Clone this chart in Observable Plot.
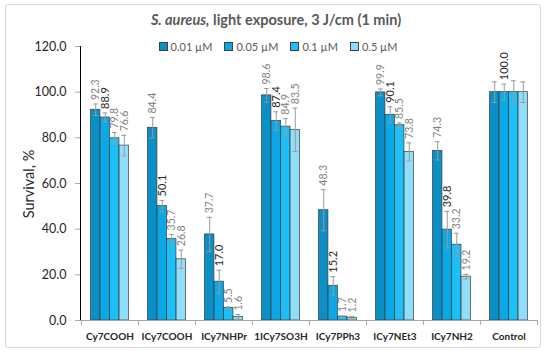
<!DOCTYPE html>
<html>
<head>
<meta charset="utf-8">
<script src="https://cdn.jsdelivr.net/npm/d3@7"></script>
<script src="https://cdn.jsdelivr.net/npm/@observablehq/plot@0.6"></script>
<style>
  html, body { margin: 0; padding: 0; background: #fff; }
  #wrap { position: relative; width: 550px; height: 352px; font-family: Lato, "Open Sans", sans-serif; }
  #frame { position: absolute; left: 5px; top: 4px; width: 536px; height: 344px; border: 1px solid #d9d9d9; border-radius: 3px; box-sizing: border-box; }
  #title { position: absolute; top: 11px; left: 0; width: 552px; text-align: center; font-size: 14.5px; font-weight: bold; color: #595959; }
  #legend { position: absolute; top: 40px; left: 0; width: 556px; display: flex; justify-content: center; gap: 12px; font-size: 11px; color: #595959; }
  #legend span.item { display: flex; align-items: center; gap: 3px; }
  #legend span.sw { width: 7px; height: 7px; border: 1px solid #404040; display: inline-block; }
  #ylabel { position: absolute; left: 28px; top: 184px; transform: translate(-50%, -50%) rotate(-90deg); font-size: 14.5px; color: #262626; white-space: nowrap; }
  #chart { position: absolute; left: 0; top: 0; }
</style>
</head>
<body>
<div id="wrap">
  <div id="frame"></div>
  <div id="chart"></div>
  <div id="title"><i>S. aureus,</i> light exposure, 3 J/cm (1 min)</div>
  <div id="legend"></div>
  <div id="ylabel">Survival, %</div>
</div>
<script>
const categories = ["Cy7COOH", "ICy7COOH", "ICy7NHPr", "1ICy7SO3H", "ICy7PPh3", "ICy7NEt3", "ICy7NH2", "Control"];
const seriesNames = ["0.01 µM", "0.05 µM", "0.1 µM", "0.5 µM"];
const values001 = [92.3, 84.4, 37.7, 98.6, 48.3, 99.9, 74.3, 100.0];
const values005 = [88.9, 50.1, 17.0, 87.4, 15.2, 90.1, 39.8, 100.0];
const values01  = [79.8, 35.7, 5.5, 84.9, 1.7, 85.5, 33.2, 100.0];
const values05  = [76.6, 26.8, 1.6, 83.5, 1.2, 73.8, 19.2, 100.0];
const errors001 = [2.5, 4.5, 7.5, 3.0, 9.0, 1.5, 4.0, 4.5];
const errors005 = [2.0, 2.5, 5.0, 4.0, 4.0, 3.5, 8.0, 3.5];
const errors01  = [2.5, 2.0, 0.4, 3.5, 0.3, 1.0, 5.0, 5.0];
const errors05  = [4.5, 4.0, 1.0, 9.5, 0.6, 4.0, 1.0, 4.5];
const yTicks = [0, 20, 40, 60, 80, 100, 120];
// labels hidden in the original (Control shows only the 0.05 µM label)
const hiddenLabels = [["Control", "0.01 µM"], ["Control", "0.1 µM"], ["Control", "0.5 µM"]];

const colors = ["#0a90c6", "#0aa8e6", "#1cc0f6", "#8fdffa"];
const seriesValues = [values001, values005, values01, values05];
const seriesErrors = [errors001, errors005, errors01, errors05];

const rows = [];
seriesNames.forEach((s, si) => {
  categories.forEach((c, ci) => {
    rows.push({category: c, series: s, si, value: seriesValues[si][ci], err: seriesErrors[si][ci]});
  });
});

const width = 550, height = 352;
const marginLeft = 80, marginRight = 13, marginTop = 46, marginBottom = 32;
const bw = (width - marginLeft - marginRight) / categories.length;
const pad = bw / 6;

const marks = [];
// bars
seriesNames.forEach((s, si) => {
  const data = rows.filter(d => d.si === si);
  marks.push(Plot.barY(data, {
    x: "category", y: "value",
    fill: colors[si], stroke: "#3a3a3a", strokeWidth: 0.7,
    insetLeft: pad * (1 + si), insetRight: pad * (4 - si)
  }));
});
// axes lines
marks.push(Plot.ruleY([0], {stroke: "#a6a6a6", strokeWidth: 1}));
marks.push(Plot.ruleX(categories, {x: d => d, dx: -bw / 2, y1: 0, y2: 0, insetBottom: -5, stroke: "#a6a6a6"}));
marks.push(Plot.ruleX([categories[categories.length - 1]], {x: d => d, dx: bw / 2, y1: 0, y2: 0, insetBottom: -5, stroke: "#a6a6a6"}));
// error bars
seriesNames.forEach((s, si) => {
  const data = rows.filter(d => d.si === si);
  const off = pad * (si - 1.5);
  const cap = 2.5;
  marks.push(Plot.ruleX(data, {x: "category", y1: d => d.value - d.err, y2: d => d.value + d.err, dx: off, stroke: "#9a9a9a", strokeWidth: 1}));
  marks.push(Plot.tickY(data, {x: "category", y: d => d.value + d.err, insetLeft: bw / 2 + off - cap, insetRight: bw / 2 - off - cap, stroke: "#9a9a9a", strokeWidth: 1}));
  marks.push(Plot.tickY(data, {x: "category", y: d => d.value - d.err, insetLeft: bw / 2 + off - cap, insetRight: bw / 2 - off - cap, stroke: "#9a9a9a", strokeWidth: 1}));
});
// value labels
seriesNames.forEach((s, si) => {
  const data = rows.filter(d => d.si === si && !hiddenLabels.some(([c, sn]) => c === d.category && sn === d.series));
  const off = pad * (si - 1.5);
  marks.push(Plot.text(data, {
    x: "category", y: d => d.value + d.err, text: d => d.value.toFixed(1),
    rotate: -90, textAnchor: "start", dx: off, dy: -4,
    fill: si === 1 ? "#262626" : "#7f7f7f",
    fontSize: si === 1 ? 11 : 10.5
  }));
});
// category labels
marks.push(Plot.text(categories, {x: d => d, y: 0, dy: 16, text: d => d, fontWeight: "bold", fontSize: 10, fill: "#262626"}));

const chart = Plot.plot({
  width, height, marginLeft, marginRight, marginTop, marginBottom,
  style: {fontFamily: "Lato, 'Open Sans', sans-serif", background: "transparent", overflow: "visible"},
  x: {domain: categories, padding: 0, axis: null},
  y: {domain: [0, 120], ticks: yTicks, tickFormat: d => d.toFixed(1), tickSize: 5, tickPadding: 9, label: null, line: true},
  marks
});
// style y axis text
chart.querySelectorAll("[aria-label='y-axis'] text, [aria-label='y-axis tick label'] text").forEach(t => { t.style.fontSize = "12.5px"; t.setAttribute("fill", "#262626"); });
chart.querySelectorAll("[aria-label='y-axis'] path, [aria-label='y-axis tick'] path, [aria-label='y-axis'] line").forEach(p => p.setAttribute("stroke", "#a6a6a6"));
document.getElementById("chart").appendChild(chart);

const legend = document.getElementById("legend");
seriesNames.forEach((s, si) => {
  const item = document.createElement("span");
  item.className = "item";
  const sw = document.createElement("span");
  sw.className = "sw";
  sw.style.background = colors[si];
  item.appendChild(sw);
  item.appendChild(document.createTextNode(s));
  legend.appendChild(item);
});
</script>
</body>
</html>
